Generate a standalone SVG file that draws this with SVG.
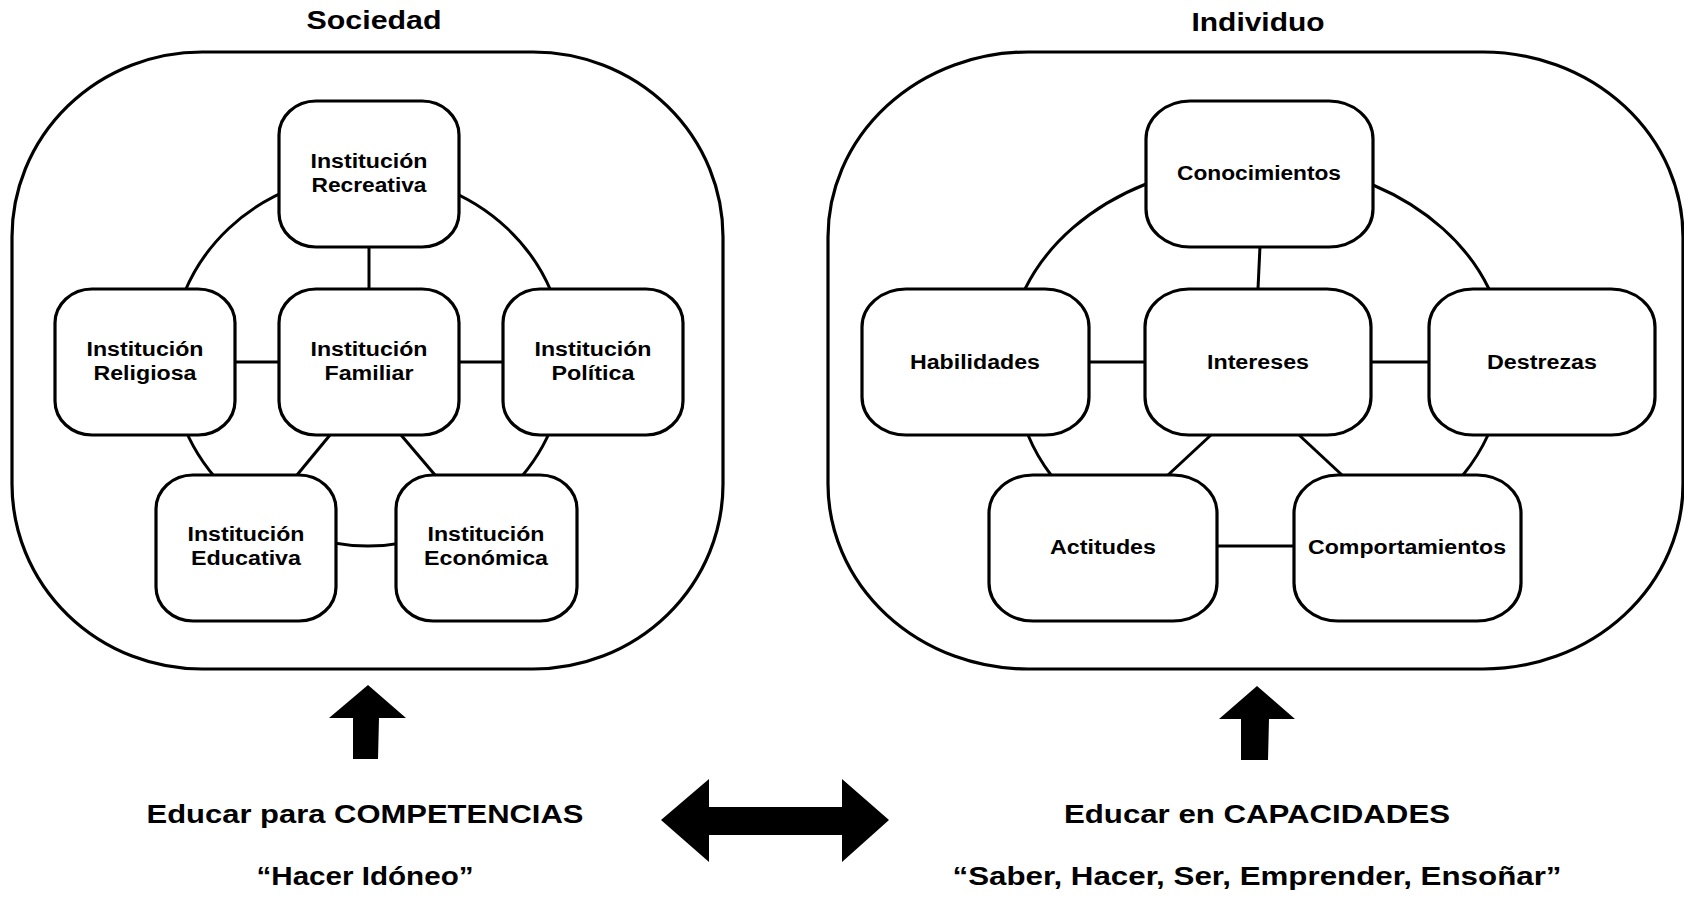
<svg xmlns="http://www.w3.org/2000/svg" width="1684" height="902" viewBox="0 0 1684 902">
  <style>
    .frame { fill: none; stroke: #000; stroke-width: 3.2; }
    .node { fill: #fff; stroke: #000; stroke-width: 3.2; }
    .link { fill: none; stroke: #000; stroke-width: 3; }
    .lbl { font-family: "Liberation Sans", Arial, sans-serif; font-weight: bold; font-size: 20px; fill: #000; text-anchor: middle; }
    .big { font-family: "Liberation Sans", Arial, sans-serif; font-weight: bold; font-size: 26px; fill: #000; text-anchor: middle; }
    .solid { fill: #000; stroke: none; }
  </style>
  <rect width="1684" height="902" fill="#fff"/>

  <!-- Titles -->
  <g id="title-sociedad"><text class="big" x="374" y="29" textLength="135" lengthAdjust="spacingAndGlyphs">Sociedad</text></g>
  <g id="title-individuo"><text class="big" x="1258" y="31" textLength="133" lengthAdjust="spacingAndGlyphs">Individuo</text></g>

  <!-- Outer frames -->
  <g id="frame-sociedad"><rect class="frame" x="12" y="52" width="711" height="617" rx="190" ry="185"/></g>
  <g id="frame-individuo"><rect class="frame" x="828" y="52" width="855" height="617" rx="200" ry="185"/></g>

  <!-- Connectors -->
  <g id="connectors">
    <!-- Sociedad ring and spokes -->
    <ellipse class="link" cx="368" cy="360" rx="197" ry="186"/>
    <line class="link" x1="369" y1="247" x2="369" y2="289"/>
    <line class="link" x1="234" y1="362" x2="279" y2="362"/>
    <line class="link" x1="458" y1="362" x2="504" y2="362"/>
    <line class="link" x1="330" y1="435" x2="297" y2="475"/>
    <line class="link" x1="401" y1="435" x2="435" y2="475"/>
    <!-- Individuo ring segments and spokes -->
    <path class="link" d="M1146,184 A251,197 0 0 0 1025,289"/>
    <path class="link" d="M1373,185 A251,197 0 0 1 1489,289"/>
    <path class="link" d="M1028,435 A251,197 0 0 0 1051,475"/>
    <path class="link" d="M1488,435 A251,197 0 0 1 1463,475"/>
    <line class="link" x1="1217" y1="546" x2="1294" y2="546"/>
    <line class="link" x1="1260" y1="246" x2="1258" y2="289"/>
    <line class="link" x1="1089" y1="362" x2="1145" y2="362"/>
    <line class="link" x1="1371" y1="362" x2="1429" y2="362"/>
    <line class="link" x1="1211" y1="435" x2="1168" y2="475"/>
    <line class="link" x1="1299" y1="435" x2="1342" y2="475"/>
  </g>

  <!-- Sociedad nodes -->
  <g id="n-recreativa">
    <rect class="node" x="279" y="101" width="180" height="146" rx="37" ry="34"/>
    <text class="lbl" x="369" y="168" textLength="117" lengthAdjust="spacingAndGlyphs">Institución</text>
    <text class="lbl" x="369" y="192" textLength="115" lengthAdjust="spacingAndGlyphs">Recreativa</text>
  </g>
  <g id="n-religiosa">
    <rect class="node" x="55" y="289" width="180" height="146" rx="37" ry="34"/>
    <text class="lbl" x="145" y="356" textLength="117" lengthAdjust="spacingAndGlyphs">Institución</text>
    <text class="lbl" x="145" y="380" textLength="103" lengthAdjust="spacingAndGlyphs">Religiosa</text>
  </g>
  <g id="n-familiar">
    <rect class="node" x="279" y="289" width="180" height="146" rx="37" ry="34"/>
    <text class="lbl" x="369" y="356" textLength="117" lengthAdjust="spacingAndGlyphs">Institución</text>
    <text class="lbl" x="369" y="380" textLength="89" lengthAdjust="spacingAndGlyphs">Familiar</text>
  </g>
  <g id="n-politica">
    <rect class="node" x="503" y="289" width="180" height="146" rx="37" ry="34"/>
    <text class="lbl" x="593" y="356" textLength="117" lengthAdjust="spacingAndGlyphs">Institución</text>
    <text class="lbl" x="593" y="380" textLength="83" lengthAdjust="spacingAndGlyphs">Política</text>
  </g>
  <g id="n-educativa">
    <rect class="node" x="156" y="475" width="180" height="146" rx="37" ry="34"/>
    <text class="lbl" x="246" y="541" textLength="117" lengthAdjust="spacingAndGlyphs">Institución</text>
    <text class="lbl" x="246" y="565" textLength="110" lengthAdjust="spacingAndGlyphs">Educativa</text>
  </g>
  <g id="n-economica">
    <rect class="node" x="396" y="475" width="181" height="146" rx="37" ry="34"/>
    <text class="lbl" x="486" y="541" textLength="117" lengthAdjust="spacingAndGlyphs">Institución</text>
    <text class="lbl" x="486" y="565" textLength="124" lengthAdjust="spacingAndGlyphs">Económica</text>
  </g>

  <!-- Individuo nodes -->
  <g id="n-conocimientos">
    <rect class="node" x="1146" y="101" width="227" height="146" rx="44" ry="38"/>
    <text class="lbl" x="1259" y="180" textLength="164" lengthAdjust="spacingAndGlyphs">Conocimientos</text>
  </g>
  <g id="n-habilidades">
    <rect class="node" x="862" y="289" width="227" height="146" rx="44" ry="38"/>
    <text class="lbl" x="975" y="369" textLength="130" lengthAdjust="spacingAndGlyphs">Habilidades</text>
  </g>
  <g id="n-intereses">
    <rect class="node" x="1145" y="289" width="226" height="146" rx="44" ry="38"/>
    <text class="lbl" x="1258" y="369" textLength="102" lengthAdjust="spacingAndGlyphs">Intereses</text>
  </g>
  <g id="n-destrezas">
    <rect class="node" x="1429" y="289" width="226" height="146" rx="44" ry="38"/>
    <text class="lbl" x="1542" y="369" textLength="110" lengthAdjust="spacingAndGlyphs">Destrezas</text>
  </g>
  <g id="n-actitudes">
    <rect class="node" x="989" y="475" width="228" height="146" rx="44" ry="38"/>
    <text class="lbl" x="1103" y="554" textLength="106" lengthAdjust="spacingAndGlyphs">Actitudes</text>
  </g>
  <g id="n-comportamientos">
    <rect class="node" x="1294" y="475" width="227" height="146" rx="44" ry="38"/>
    <text class="lbl" x="1407" y="554" textLength="198" lengthAdjust="spacingAndGlyphs">Comportamientos</text>
  </g>

  <!-- Block arrows -->
  <g id="arrow-up-left"><polygon class="solid" points="368,685 406,718 379,718 378,759 353,759 353,718 329,718"/></g>
  <g id="arrow-up-right"><polygon class="solid" points="1257,686 1295,719 1269,719 1268,760 1241,760 1241,719 1219,719"/></g>
  <g id="arrow-both"><polygon class="solid" points="661,820 709,779 709,807 842,807 842,779 889,820 842,862 842,835 709,835 709,862"/></g>

  <!-- Bottom captions -->
  <g id="caption-competencias">
    <text class="big" x="365" y="823" textLength="437" lengthAdjust="spacingAndGlyphs">Educar para COMPETENCIAS</text>
    <text class="big" x="365" y="885" textLength="217" lengthAdjust="spacingAndGlyphs">“Hacer Idóneo”</text>
  </g>
  <g id="caption-capacidades">
    <text class="big" x="1257" y="823" textLength="386" lengthAdjust="spacingAndGlyphs">Educar en CAPACIDADES</text>
    <text class="big" x="1257" y="885" textLength="609" lengthAdjust="spacingAndGlyphs">“Saber, Hacer, Ser, Emprender, Ensoñar”</text>
  </g>
</svg>
